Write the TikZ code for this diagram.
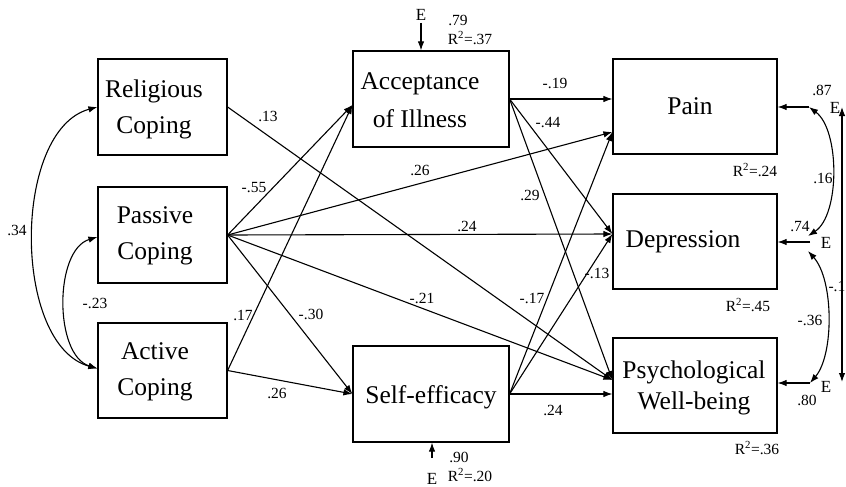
\documentclass[tikz,border=0pt]{standalone}
\usepackage{fontspec}
\setmainfont{Liberation Serif}
\usetikzlibrary{arrows.meta}
\begin{document}
\begin{tikzpicture}[x=1pt,y=-1pt,
  box/.style={draw,line width=1.2pt,inner sep=0pt},
  btxt/.style={align=center,inner sep=0pt,font=\fontsize{25.5}{36}\selectfont},
  lab/.style={inner sep=0pt,font=\fontsize{15.5}{18}\selectfont},
  etxt/.style={inner sep=0pt,font=\fontsize{17}{20}\selectfont},
  conn/.style={line width=1.1pt,-{Latex[length=9pt,width=6.5pt]}},
  cov/.style={line width=1.1pt,{Latex[length=9pt,width=6.5pt]}-{Latex[length=9pt,width=6.5pt]}}
]
\useasboundingbox (0,0) rectangle (846,487);
% boxes
\node[box,minimum width=129pt,minimum height=96pt] (rel) at (162.5,107) {};
\node[box,minimum width=129pt,minimum height=96pt] (pas) at (162.5,235) {};
\node[box,minimum width=129pt,minimum height=95pt] (act) at (162.5,370.5) {};
\node[box,minimum width=156pt,minimum height=96pt] (acc) at (431,99) {};
\node[box,minimum width=156pt,minimum height=96pt] (se) at (431,394) {};
\node[box,minimum width=164pt,minimum height=95pt] (pain) at (695,106.5) {};
\node[box,minimum width=164pt,minimum height=95pt] (dep) at (695,241.5) {};
\node[box,minimum width=164pt,minimum height=95pt] (pwb) at (695,385.5) {};
% box texts
\node[btxt] (relT) at (154,109) {Religious\\Coping};
\node[btxt] (pasT) at (155,236) {Passive\\Coping};
\node[btxt] (actT) at (155,371.5) {Active\\Coping};
\node[btxt,font=\fontsize{25.5}{38}\selectfont] (accT) at (420,100) {Acceptance\\of Illness};
\node[btxt] (seT) at (431,397) {Self-efficacy};
\node[btxt] (painT) at (690,106.5) {Pain};
\node[btxt] (depT) at (683,242) {Depression};
\node[btxt,font=\fontsize{25.5}{31}\selectfont] (pwbT) at (694,388) {Psychological\\Well-being};
% paths
\draw[conn] (rel.east) -- ([yshift=5.5pt]pwb.west);
\draw[conn] (pas.east) -- ([yshift=-6pt]acc.west);
\draw[conn] (act.east) -- ([yshift=-6pt]acc.west);
\draw[conn] (pas.east) -- ([yshift=-25.5pt]pain.west);
\draw[conn] (pas.east) -- ([yshift=7.5pt]dep.west);
\draw[conn] (pas.east) -- ([yshift=5.5pt]pwb.west);
\draw[conn] (pas.east) -- (se.west);
\draw[conn] (act.east) -- (se.west);
\draw[conn] (acc.east) -- ([yshift=7.5pt]pain.west);
\draw[conn] (acc.east) -- ([yshift=7.5pt]dep.west);
\draw[conn] (acc.east) -- ([yshift=5.5pt]pwb.west);
\draw[conn] (se.east) -- ([yshift=-25.5pt]pain.west);
\draw[conn] (se.east) -- ([yshift=7.5pt]dep.west);
\draw[conn] (se.east) -- ([yshift=-8.5pt]pwb.west);
% covariances left
\draw[cov] (rel.west) .. controls (12,130) and (12,345) .. ([yshift=2pt]act.west);
\draw[cov] ([yshift=-2pt]pas.west) .. controls (54,250) and (54,355) .. ([yshift=2pt]act.west);
% error terms mediators
\node[etxt] (eAccT) at (421,15) {E};
\draw[conn] ([yshift=-2pt]eAccT.south) -- (eAccT.south |- acc.north);
\node[etxt] (eSeT) at (432,479) {E};
\coordinate (eSe) at (432,458);
\draw[conn] (eSe) -- (eSe |- se.south);
% error terms outcomes
\coordinate (ePain) at (809,107);
\coordinate (eDep) at (810,242);
\coordinate (ePwb) at (810,383);
\coordinate (c16b) at (808,236);
\coordinate (c36a) at (808,251);
\coordinate (vTop) at (842,107);
\coordinate (vBot) at (842,382);
\node[etxt] (ePainT) at (835,108) {E};
\node[etxt] (eDepT) at (826,243) {E};
\node[etxt] (ePwbT) at (826,387) {E};
\draw[conn] (ePain) -- (ePain -| pain.east);
\draw[conn] (eDep) -- (eDep -| dep.east);
\draw[conn] (ePwb) -- (ePwb -| pwb.east);
\draw[cov] (ePain) .. controls (840,130) and (840,215) .. (c16b);
\draw[cov] (c36a) .. controls (834,280) and (834,355) .. (ePwb);
\draw[cov] (vTop) -- (vBot);
% labels
\node[lab] (l1) at (268,116) {.13};
\node[lab] (l2) at (254,188) {-.55};
\node[lab] (l3) at (17,230) {.34};
\node[lab] (l4) at (420,170) {.26};
\node[lab] (l5) at (467,226) {.24};
\node[lab] (l6) at (422,298) {-.21};
\node[lab] (l7) at (311,314) {-.30};
\node[lab] (l8) at (243,315) {.17};
\node[lab] (l9) at (95,303) {-.23};
\node[lab] (l10) at (277,393) {.26};
\node[lab] (l11) at (530,195) {.29};
\node[lab] (l12) at (532,298) {-.17};
\node[lab] (l13) at (597,273) {-.13};
\node[lab] (l14) at (555,83) {-.19};
\node[lab] (l15) at (548,123) {-.44};
\node[lab] (l16) at (553,410) {.24};
\node[lab] (l17) at (459,457) {.90};
\node[lab] (l18) at (470,475) {R\textsuperscript{2}=.20};
\node[lab] (l19) at (458,20) {.79};
\node[lab] (l20) at (470,38) {R\textsuperscript{2}=.37};
\node[lab] (l21) at (755,170) {R\textsuperscript{2}=.24};
\node[lab] (l22) at (822,90) {.87};
\node[lab] (l23) at (823,178) {.16};
\node[lab] (l24) at (800,227) {.74};
\node[lab] (l25) at (748,305) {R\textsuperscript{2}=.45};
\node[lab] (l26) at (810,320) {-.36};
\node[lab,anchor=east] (l27) at (845.5,286) {-.1};
\node[lab] (l28) at (807,400) {.80};
\node[lab] (l29) at (757,448) {R\textsuperscript{2}=.36};
\end{tikzpicture}
\end{document}
